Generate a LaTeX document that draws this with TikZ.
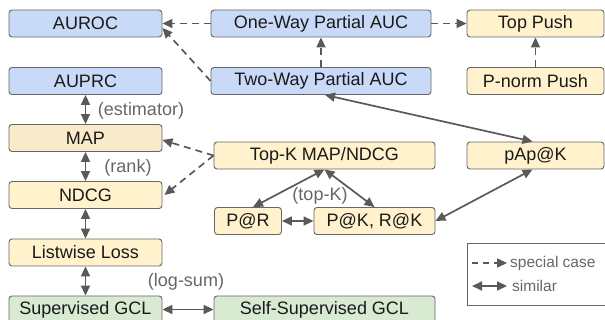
\documentclass[tikz,border=0pt]{standalone}
\usepackage{fontspec}
\setmainfont{Liberation Sans}
\usetikzlibrary{arrows.meta}
\definecolor{bluef}{HTML}{C9DAF8}
\definecolor{yelf}{HTML}{FFF2CC}
\definecolor{mapf}{HTML}{F8EACA}
\definecolor{greenf}{HTML}{D9EAD3}
\definecolor{edgec}{HTML}{666666}
\definecolor{arrc}{HTML}{595959}
\definecolor{lblc}{HTML}{666666}
\definecolor{txtc}{HTML}{1A1A1A}
\tikzset{
  box/.style={draw=edgec, line width=0.9pt, rounded corners=3pt, inner sep=0pt,
    minimum height=27pt, text=txtc, font=\fontsize{18}{21}\selectfont},
  bluebox/.style={box, fill=bluef},
  yelbox/.style={box, fill=yelf},
  greenbox/.style={box, fill=greenf},
  spec/.style={draw=arrc, line width=1.7pt, dash pattern=on 7pt off 5pt,
    -{Triangle[length=10pt,width=9pt]}},
  sim/.style={draw=arrc, line width=1.7pt,
    {Triangle[length=10pt,width=9pt]}-{Triangle[length=10pt,width=9pt]}},
  lbl/.style={text=lblc, font=\fontsize{18}{21}\selectfont, inner sep=0pt},
  legtxt/.style={text=lblc, font=\fontsize{15.5}{18}\selectfont, inner sep=0pt, anchor=west}
}
\begin{document}
\begin{tikzpicture}[x=1pt,y=-1pt]
\useasboundingbox (0,0) rectangle (605,320);
% row 1
\node[bluebox, minimum width=153pt] (auroc) at (85.5,23.5) {AUROC};
\node[bluebox, minimum width=220pt] (oneway) at (321,23.5) {One-Way Partial AUC};
\node[yelbox, minimum width=137pt] (toppush) at (535.5,23.5) {Top Push};
% row 2
\node[bluebox, minimum width=153pt] (auprc) at (85.5,81) {AUPRC};
\node[bluebox, minimum width=220pt] (twoway) at (321,81) {Two-Way Partial AUC};
\node[yelbox, minimum width=137pt] (pnorm) at (535.5,81) {P-norm Push};
% row 3
\node[box, fill=mapf, minimum width=153pt] (map) at (85.5,138) {MAP};
\node[yelbox, minimum width=221pt] (topk) at (324.5,155.5) {Top-K MAP/NDCG};
\node[yelbox, minimum width=137pt] (papk) at (535.5,155.5) {pAp@K};
% row 4
\node[yelbox, minimum width=153pt] (ndcg) at (85.5,195) {NDCG};
\node[yelbox, minimum width=67pt] (pr) at (248,221) {P@R};
\node[yelbox, minimum width=121pt] (pk) at (374.5,221) {P@K, R@K};
% row 5
\node[yelbox, minimum width=153pt] (listwise) at (85.5,252.5) {Listwise Loss};
% row 6
\node[greenbox, minimum width=153pt] (sgcl) at (85.5,309.5) {Supervised GCL};
\node[greenbox, minimum width=221pt] (ssgcl) at (324.5,309.5) {Self-Supervised GCL};
% labels
\node[lbl] (lest) at (141,111) {(estimator)};
\node[lbl] (lrank) at (128,168) {(rank)};
\node[lbl] (ltopk) at (320,196) {(top-K)};
\node[lbl] (llog) at (186,282) {(log-sum)};
% special case arrows
\draw[spec] (oneway.west) -- (auroc.east);
\draw[spec] (twoway.west) -- ([yshift=-4.5pt]auroc.east);
\draw[spec] (twoway.north) -- (oneway.south);
\draw[spec] (oneway.east) -- (toppush.west);
\draw[spec] (pnorm.north) -- (toppush.south);
\draw[spec] (topk.west) -- ([yshift=-2pt]map.east);
\draw[spec] (topk.west) -- ([xshift=2pt]ndcg.east);
% similar arrows
\draw[sim] (auprc.south) -- (map.north);
\draw[sim] (map.south) -- (ndcg.north);
\draw[sim] (ndcg.south) -- (listwise.north);
\draw[sim] (listwise.south) -- (sgcl.north);
\draw[sim] (sgcl.east) -- (ssgcl.west);
\draw[sim] ([xshift=4pt]twoway.south) -- ([xshift=-3pt]papk.north);
\draw[sim] (topk.south) -- ([xshift=5pt]pr.north);
\draw[sim] (topk.south) -- (pk.north);
\draw[sim] (pr.east) -- (pk.west);
\draw[sim] ([xshift=-3pt]papk.south) -- (pk.east);
% legend
\node[draw=edgec, line width=0.8pt, minimum width=138pt, minimum height=62pt, inner sep=0pt, anchor=north west] (legend) at (467,243) {};
\coordinate (la1) at (472,263);
\coordinate (la2) at (507,263);
\coordinate (lb1) at (472,286);
\coordinate (lb2) at (507,286);
\draw[spec, dash pattern=on 6pt off 5pt] (la1) -- (la2);
\draw[sim] (lb1) -- (lb2);
\node[legtxt] (lt1) at (510,263) {special case};
\node[legtxt] (lt2) at (512,286) {similar};
\end{tikzpicture}
\end{document}
